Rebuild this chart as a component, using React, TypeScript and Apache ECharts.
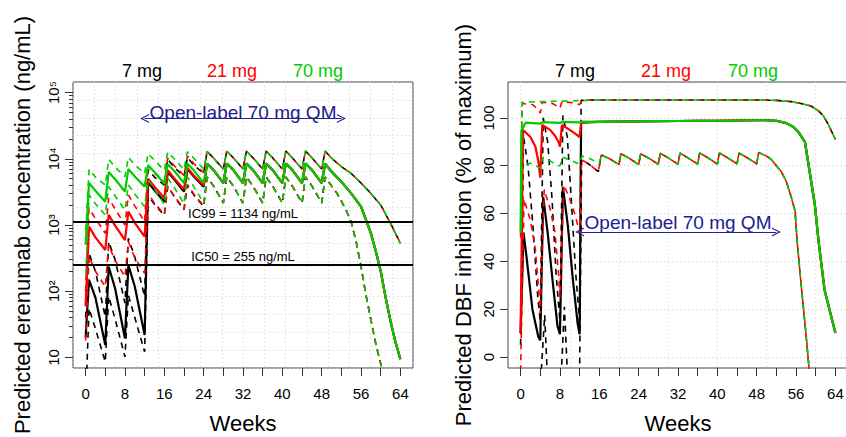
import React, { useEffect, useRef } from "react";
import * as echarts from "echarts";

const FONT = '"Liberation Sans", Arial, Helvetica, sans-serif';

// ---------- axis ticks / labels ----------
const weekTicks = [0, 4, 8, 12, 16, 20, 24, 28, 32, 36, 40, 44, 48, 52, 56, 60, 64];
const weekLabels = [0, 8, 16, 24, 32, 40, 48, 56, 64];
const inhibGridWeeks = [0, 10, 20, 30, 40, 50, 60];
const concLabelValues = [10, 100, 1000, 10000, 100000];
const concMinorTicks = [
  20, 30, 40, 50, 60, 70, 80, 90,
  200, 300, 400, 500, 600, 700, 800, 900,
  2000, 3000, 4000, 5000, 6000, 7000, 8000, 9000,
  20000, 30000, 40000, 50000, 60000, 70000, 80000, 90000,
];
const inhibTicks = [0, 20, 40, 60, 80, 100];
const doseNames = ["7 mg", "21 mg", "70 mg"];
const doseColors = ["#000000", "#ff0000", "#00cc00"];
const IC99 = 1134;
const IC50 = 255;
const openLabelWeeks = [12, 52];
const arrowConcLevel = 40600;
const arrowInhibLevel = 52.3;

// ---------- concentration (ng/mL), [week, value] ----------
const conc7MedEarly = [[0,20],[0.7,148],[2,80],[4,15.4],[4.7,234],[6,110],[8,19.4],[8.7,248],[10,118],[12,21.8],[12.7,4400],[14,3350],[16,2250],[16.7,6300],[18,4900],[20,3200],[20.7,7000],[22,5400],[24,3800]];
const conc7HiEarly = [[0,40],[0.7,373],[2,200],[4,41],[4.7,560],[6,300],[8,66],[8.7,629],[10,330],[12,83],[12.7,6900],[14,5300],[16,4000],[16.7,9800],[18,7500],[20,5400],[20.7,10500],[22,8000],[24,6000]];
const conc7LoEarly = [[0,2],[0.7,55],[2,27],[4,8.6],[4.7,83],[6,38],[8,10.2],[8.7,87],[10,40],[12,12.2],[12.7,2800],[14,2050],[16,1400],[16.7,3800],[18,2700],[20,1700],[20.7,4000],[22,2850],[24,1900]];

const conc21MedEarly = [[0,60],[0.7,944],[2,650],[4,419],[4.7,1420],[6,980],[8,593],[8.7,1590],[10,1080],[12,667],[12.7,5000],[14,3800],[16,2550],[16.7,6700],[18,5100],[20,3450],[20.7,7300],[22,5600],[24,3950]];
const conc21HiEarly = [[0,100],[0.7,1790],[2,1250],[4,748],[4.7,2530],[6,1750],[8,1000],[8.7,2840],[10,1950],[12,1120],[12.7,8000],[14,6100],[16,4400],[16.7,10200],[18,7900],[20,5600],[20.7,11000],[22,8500],[24,6200]];
const conc21LoEarly = [[0,18],[0.7,333],[2,200],[4,117],[4.7,499],[6,290],[8,166],[8.7,560],[10,320],[12,186],[12.7,3000],[14,2150],[16,1450],[16.7,3900],[18,2750],[20,1750],[20.7,4100],[22,2950],[24,1950]];

const conc70MedEarly = [[0,500],[0.7,4300],[2,3300],[4,2250],[4.7,6300],[6,4900],[8,3200],[8.7,7000],[10,5400],[12,3800],[12.7,8000],[14,6300],[16,4200],[16.7,8300],[18,6600],[20,4300],[20.7,8400],[22,6700],[24,4300]];
const conc70HiEarly = [[0,700],[0.7,6930],[2,5300],[4,4020],[4.7,9800],[6,7500],[8,5370],[8.7,10500],[10,8100],[12,6030],[12.7,12000],[14,9500],[16,6700],[16.7,12600],[18,10000],[20,6900],[20.7,12800],[22,10200],[24,7000]];
const conc70LoEarly = [[0,150],[0.7,2840],[2,2100],[4,1420],[4.7,3790],[6,2750],[8,1690],[8.7,4020],[10,2950],[12,1890],[12.7,4800],[14,3500],[16,2050],[16.7,5100],[18,3700],[20,2100],[20.7,5300],[22,3800],[24,2150]];

const concMedOL = [[24.7,8400],[26,6800],[28,4300],[28.7,8500],[30,6800],[32,4300],[32.7,8500],[34,6800],[36,4300],[36.7,8500],[38,6800],[40,4300],[40.7,8500],[42,6800],[44,4300],[44.7,8500],[46,6800],[48,4300],[48.7,8400],[50,6400],[52,4500],[54,3000],[56,1900],[57,1200],[58,750],[59,400],[60,200],[61,80],[62,35],[63,17],[64,9.4]];
const concHiOL = [[24.7,12900],[26,10300],[28,7000],[28.7,13000],[30,10400],[32,7000],[32.7,13100],[34,10400],[36,7000],[36.7,13100],[38,10400],[40,7000],[40.7,13100],[42,10400],[44,7000],[44.7,13100],[46,10400],[48,7000],[48.7,13100],[50,10200],[52,7600],[54,6000],[56,4300],[58,3000],[60,2000],[62,1060],[64,527]];
const concLoOL = [[24.7,5300],[26,3900],[28,2150],[28.7,5300],[30,3900],[32,2150],[32.7,5300],[34,3900],[36,2150],[36.7,5300],[38,3900],[40,2150],[40.7,5300],[42,3900],[44,2150],[44.7,5300],[46,3900],[48,2150],[48.7,5300],[50,3900],[51,3100],[52,2300],[53,1650],[54,1100],[55,560],[56,235],[57,87],[58,37],[59,16],[60,8],[61,4]];

// ---------- DBF inhibition (% of max), [week, value] ----------
const inh7MedEarly = [[0,10],[0.6,52],[1.2,42],[2.4,20],[3.6,8.5],[4,7],[4.6,67],[5.5,52],[6.5,32],[7.5,13],[8,9.5],[8.6,71],[9.6,55],[10.6,33],[11.6,14],[12,9.5],[12.3,98],[14,98.2],[16,98.3]];
const inh7HiEarly = [[0,5],[0.6,92],[1.5,80],[2.5,55],[3.5,25],[4,15],[4.6,100],[5.5,90],[6.4,66],[7.2,35],[8,15],[8.6,101],[9.5,92],[10.3,66],[11.2,35],[12,15],[12.3,107.3],[14,107.4],[16,107.5]];
const inh7LoEarly = [[0,-6],[4.2,-6],[4.9,17.5],[5.4,-6],[8.3,-6],[8.9,21],[9.5,-6],[12,-6],[12.4,82.5],[14,80.5],[15.8,77.5]];

const inh21MedEarly = [[0,10],[0.5,94.9],[2,92],[3,88],[3.6,82],[4,75],[4.4,97],[6,95],[7,92.5],[7.7,90],[8,88],[8.4,97],[10,95],[11,93.5],[12,92],[12.3,98],[14,98.2],[16,98.3]];
const inh21HiEarly = [[0,50],[0.3,106],[2.5,105.5],[3.5,103.5],[4,102],[4.4,106.5],[6.5,106],[7.7,104.5],[8,104],[8.4,106.8],[11,106.2],[12,105.5],[12.4,107.3],[14,107.4],[16,107.5]];
const inh21LoEarly = [[0,-6],[0.7,66],[2,57],[3,45],[3.7,28],[4,18],[4.8,70],[6,62],[7,52],[7.7,35],[8,25],[8.8,72],[10,66],[11,60],[12,52],[12.4,82.5],[14,80.5],[15.8,77.5]];

const inh70MedEarly = [[0,52],[0.15,94.5],[1,98],[4,97.6],[4.5,98.2],[8,97.9],[8.5,98.3],[12,98.1],[12.5,98.4],[16,98.3]];
const inh70HiEarly = [[0,52],[0.3,106.5],[4,106.8],[8,107],[12,107.2],[16,107.5]];
const inh70LoEarly = [[0,52],[0.3,80],[2,81],[3.5,79.5],[4,79],[4.5,83.5],[6,82],[7.5,80],[8,80],[8.5,83.5],[10,82.5],[11.5,81],[12,81],[12.5,84],[14,83],[16,81]];

const inhMedOL = [[20,98.4],[24,98.5],[28,98.6],[32,98.7],[36,98.8],[40,98.8],[44,98.9],[48,99],[50,99],[52,98.8],[54,97.8],[55.4,96.3],[56.5,94],[57.8,90],[59.8,64],[60.6,48],[61.8,28],[64,10]];
const inhHiOL = [[20,107.5],[30,107.5],[40,107.5],[48,107.5],[52,107.3],[55,106.8],[57,106],[59,105],[60.5,103],[61.5,101],[62.5,97.5],[63.3,94],[64,91]];
const inhLoOL = [[16.4,84.5],[18,83],[20,80.5],[20.4,85],[22,83.2],[24,80.5],[24.4,85],[26,83.2],[28,80.6],[28.4,85.2],[30,83.3],[32,80.6],[32.4,85.3],[34,83.3],[36,80.7],[36.4,85.3],[38,83.4],[40,80.7],[40.4,85.3],[42,83.4],[44,80.8],[44.4,85.3],[46,83.4],[48,80.8],[48.4,85.5],[50,84],[51,82.5],[52,80],[53,77.5],[54,73.5],[55,67],[55.8,61],[56.2,49],[57,31],[58,10],[58.7,-6]];

const sup: Record<number, string> = { 2: "\u00b2", 3: "\u00b3", 4: "\u2074", 5: "\u2075" };

const WEEK_MIN = -2.56;
const WEEK_MAX = 66.56;
const CONC_MIN = 6.918;
const CONC_MAX = 144544;
const INH_MIN = -4.6;
const INH_MAX = 115;

const gridLine = { show: true, lineStyle: { color: "#cfcfcf", type: [1, 3], width: 1 } };
const ANNOT = "#202090";
const arrowHead = "path://M0 12 L6 0 L12 12 L10.4 12 L6 3.2 L1.6 12 Z";

function line(data: any[], color: string, dashed: boolean, xi: number, yi: number, extra: any = {}) {
  return {
    type: "line",
    data,
    xAxisIndex: xi,
    yAxisIndex: yi,
    showSymbol: false,
    symbol: "none",
    silent: true,
    clip: true,
    lineStyle: {
      color,
      width: dashed ? 1.6 : 2.2,
      type: dashed ? [6, 5] : "solid",
      dashOffset: dashed && color === doseColors[2] ? 5.5 : 0,
    },
    ...extra,
  };
}

export default function App() {
  const ref = useRef<HTMLDivElement>(null);
  useEffect(() => {
    if (!ref.current) return;
    const chart = echarts.init(ref.current, undefined, { renderer: "svg" });

    const noLine = { show: false, onZero: false };

    const mainX = (gi: number) => ({
      type: "value",
      gridIndex: gi,
      min: WEEK_MIN,
      max: WEEK_MAX,
      position: "bottom",
      name: "Weeks",
      nameLocation: "middle",
      nameGap: 44,
      nameTextStyle: { fontSize: 22, color: "#000", fontFamily: FONT },
      axisLine: noLine,
      axisTick: { show: true, customValues: weekTicks, length: 8, lineStyle: { color: "#333" } },
      axisLabel: { customValues: weekLabels, fontSize: 15, color: "#000", margin: 18, fontFamily: FONT },
      splitLine: { show: false },
    });

    const hiddenAxisBase = {
      axisLine: noLine,
      axisTick: { show: false },
      axisLabel: { show: false },
    };

    const xAxis = [
      mainX(0),
      { type: "value", gridIndex: 0, position: "top", min: 0, max: 16, interval: 1, ...hiddenAxisBase, splitLine: gridLine },
      mainX(1),
      {
        type: "value", gridIndex: 1, position: "top", min: WEEK_MIN, max: WEEK_MAX,
        axisLine: noLine,
        axisTick: { show: false, customValues: inhibGridWeeks },
        axisLabel: { show: false },
        splitLine: gridLine,
      },
    ];

    const yAxis = [
      {
        type: "log", gridIndex: 0, position: "left", min: CONC_MIN, max: CONC_MAX, logBase: 10,
        name: "Predicted erenumab concentration (ng/mL)",
        nameLocation: "middle", nameGap: 40,
        nameTextStyle: { fontSize: 22, color: "#000", fontFamily: FONT },
        axisLine: noLine,
        axisTick: { show: true, customValues: concLabelValues, length: 8, lineStyle: { color: "#333" } },
        axisLabel: {
          customValues: concLabelValues, rotate: 90, fontSize: 15, color: "#000", margin: 12, fontFamily: FONT,
          formatter: (v: number) => {
            const e = Math.round(Math.log10(v));
            return e === 1 ? "10" : "10" + (sup[e] || "");
          },
        },
        splitLine: { show: false },
      },
      {
        type: "log", gridIndex: 0, position: "left", min: CONC_MIN, max: CONC_MAX, logBase: 10,
        axisLine: noLine,
        axisTick: { show: true, customValues: concMinorTicks, length: 4, lineStyle: { color: "#333" } },
        axisLabel: { show: false },
        splitLine: { show: false },
      },
      { type: "value", gridIndex: 0, position: "right", min: 0, max: 16, interval: 1, ...hiddenAxisBase, splitLine: gridLine },
      {
        type: "value", gridIndex: 1, position: "left", min: INH_MIN, max: INH_MAX,
        name: "Predicted DBF inhibition (% of maximum)",
        nameLocation: "middle", nameGap: 34,
        nameTextStyle: { fontSize: 22, color: "#000", fontFamily: FONT },
        axisLine: noLine,
        axisTick: { show: true, customValues: inhibTicks, length: 8, lineStyle: { color: "#333" } },
        axisLabel: { customValues: inhibTicks, rotate: 90, fontSize: 15, color: "#000", margin: 12, fontFamily: FONT },
        splitLine: gridLine,
      },
    ];

    const [c7, c21, c70] = doseColors;

    const arrowMarkLine = (level: number, dist: number) => ({
      silent: true,
      symbol: [arrowHead, arrowHead],
      symbolSize: 9,
      lineStyle: { color: ANNOT, width: 1.2, type: "solid" },
      label: {
        show: true,
        position: "insideMiddleTop",
        distance: dist,
        formatter: "Open-label 70 mg QM",
        color: ANNOT,
        fontSize: 19,
        fontFamily: FONT,
      },
      data: [[{ coord: [openLabelWeeks[0], level] }, { coord: [openLabelWeeks[1], level] }]],
    });

    const icMarkLine = {
      silent: true,
      symbol: ["none", "none"],
      lineStyle: { color: "#000", width: 2.2, type: "solid" },
      label: {
        show: true,
        position: "insideMiddleTop",
        distance: 1,
        color: "#000",
        fontSize: 13,
        fontFamily: FONT,
        formatter: (p: any) => (p.value === IC99 ? `IC99 = ${IC99} ng/mL` : `IC50 = ${IC50} ng/mL`),
      },
      data: [{ yAxis: IC99 }, { yAxis: IC50 }],
    };

    const series: any[] = [
      // left panel: concentration
      line([...conc7HiEarly, ...concHiOL], c7, true, 0, 0),
      line([...conc7LoEarly, ...concLoOL], c7, true, 0, 0),
      line([...conc7MedEarly, ...concMedOL], c7, false, 0, 0),
      line([...conc21HiEarly, ...concHiOL], c21, true, 0, 0),
      line([...conc21LoEarly, ...concLoOL], c21, true, 0, 0),
      line([...conc21MedEarly, ...concMedOL], c21, false, 0, 0),
      line([...conc70HiEarly, ...concHiOL], c70, true, 0, 0),
      line([...conc70LoEarly, ...concLoOL], c70, true, 0, 0),
      line([...conc70MedEarly, ...concMedOL], c70, false, 0, 0, { markLine: icMarkLine }),
      line([], c70, false, 0, 0, { markLine: arrowMarkLine(arrowConcLevel, -3) }),
      // right panel: inhibition
      line([...inh7HiEarly, ...inhHiOL], c7, true, 2, 3),
      line([...inh7LoEarly, ...inhLoOL], c7, true, 2, 3),
      line([...inh7MedEarly, ...inhMedOL], c7, false, 2, 3),
      line([...inh21HiEarly, ...inhHiOL], c21, true, 2, 3),
      line([...inh21LoEarly, ...inhLoOL], c21, true, 2, 3),
      line([...inh21MedEarly, ...inhMedOL], c21, false, 2, 3),
      line([...inh70HiEarly, ...inhHiOL], c70, true, 2, 3),
      line([...inh70LoEarly, ...inhLoOL], c70, true, 2, 3),
      line([...inh70MedEarly, ...inhMedOL], c70, false, 2, 3),
      line([], c70, false, 2, 3, { markLine: arrowMarkLine(arrowInhibLevel, 0) }),
    ];

    const headerY = 71;
    const leftHeaderX = [142, 232, 318];
    const rightHeaderX = [575, 666, 753];
    const headers: any[] = [];
    [leftHeaderX, rightHeaderX].forEach((xs) => {
      xs.forEach((x, i) => {
        headers.push({
          type: "text",
          x,
          y: headerY,
          silent: true,
          style: {
            text: doseNames[i],
            fill: doseColors[i],
            font: `18px ${FONT}`,
            textAlign: "center",
            textVerticalAlign: "middle",
          },
        });
      });
    });

    chart.setOption({
      animation: false,
      backgroundColor: "#ffffff",
      textStyle: { fontFamily: FONT },
      grid: [
        { left: 73, top: 82, width: 340, height: 286, show: true, borderColor: "#444", borderWidth: 1, backgroundColor: "transparent", containLabel: false, outerBoundsMode: "none" },
        { left: 508, top: 82, width: 340, height: 286, show: true, borderColor: "#444", borderWidth: 1, backgroundColor: "transparent", containLabel: false, outerBoundsMode: "none" },
      ],
      xAxis,
      yAxis,
      series,
      graphic: headers,
    });

    return () => chart.dispose();
  }, []);

  return (
    <div
      ref={ref}
      style={{ position: "absolute", left: 0, top: 0, width: 846, height: 437, background: "#fff" }}
    />
  );
}
